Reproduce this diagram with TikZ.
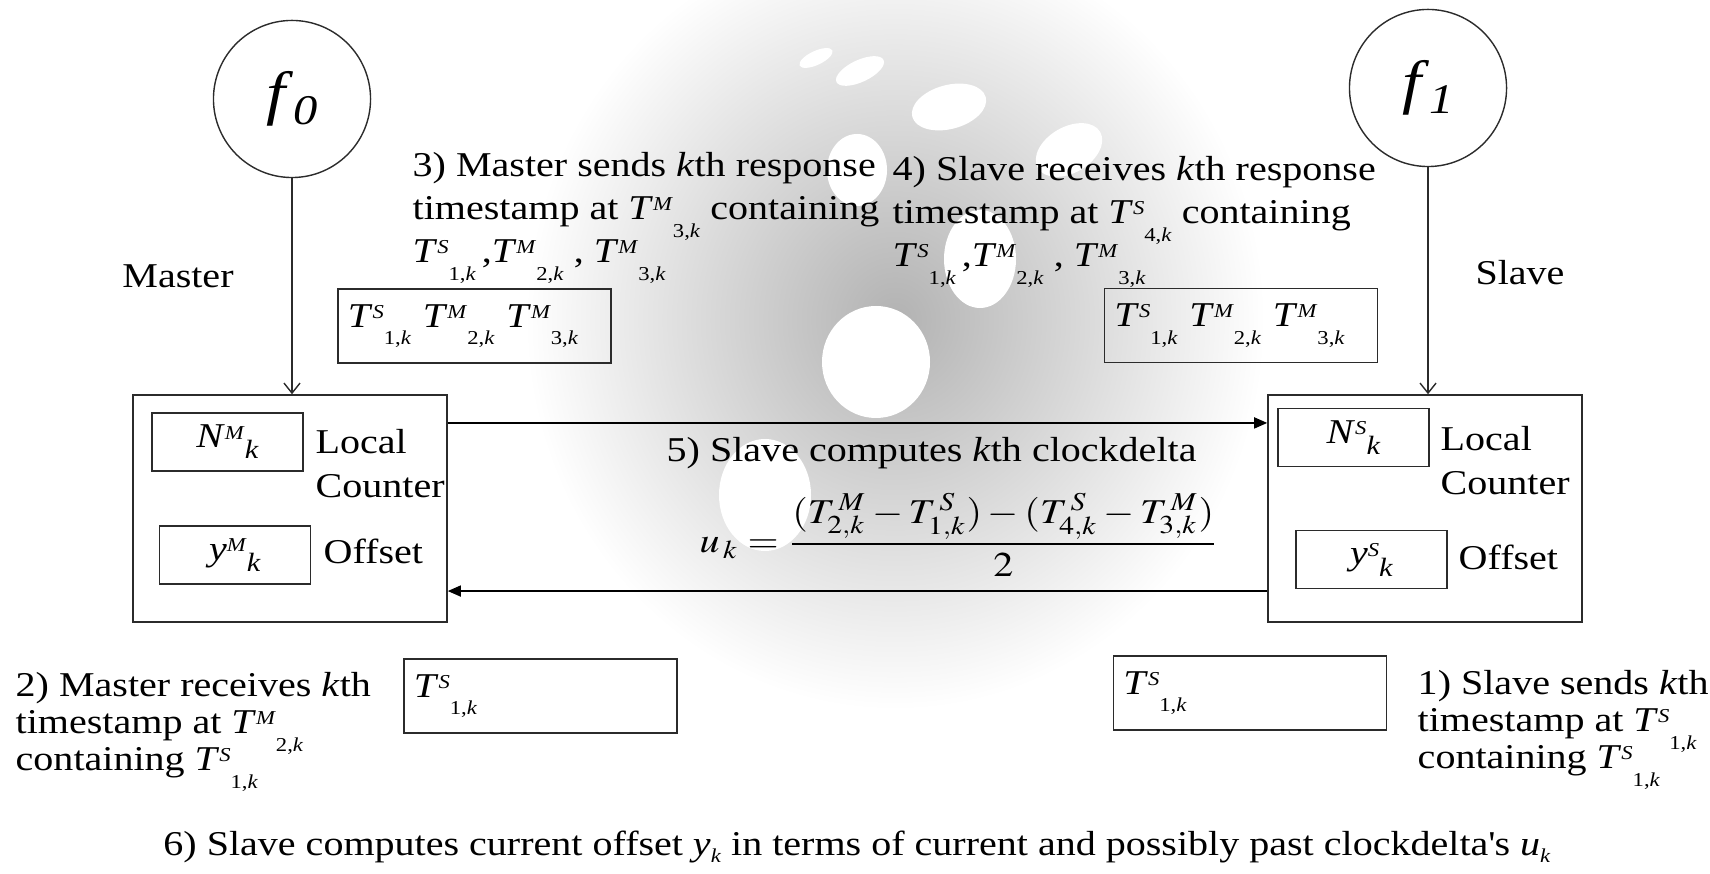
\documentclass[tikz,border=0pt]{standalone}
\usepackage{mathptmx}
\usepackage{fontspec}
\setmainfont[FakeStretch=1.15]{Liberation Serif}
\usepackage{graphicx}
\usepackage{tikz}
\usetikzlibrary{arrows.meta,positioning,calc}
\definecolor{SyncInk}{HTML}{2B2B2B}
\definecolor{SyncHaze}{HTML}{B2B2B2}
\setlength{\lineskiplimit}{-50pt}
\newcommand{\ssz}{\fontsize{5.6}{6}\selectfont}
\newcommand{\stamp}[3]{\textit{T}\raisebox{.55ex}{\ssz\textit{#1}}\raisebox{-1.1ex}{\ssz #2,\textit{#3}}}
\newcommand{\reg}[2]{\textit{#1}\raisebox{.55ex}{\ssz\textit{#2}}\raisebox{-.7ex}{\fontsize{7.5}{8}\selectfont\textit{k}}}
\newcommand{\clk}[1]{\fontsize{17}{17}\selectfont\textit{f}\raisebox{-.4ex}{\fontsize{12}{12}\selectfont\textit{#1}}}
\tikzset{
  clock/.style={draw=SyncInk, circle, minimum size=1.57cm, inner sep=0pt},
  unit/.style={draw=SyncInk, line width=0.4pt, minimum width=3.14cm, minimum height=2.27cm, inner sep=0pt},
  register/.style={draw=SyncInk, line width=0.4pt, minimum width=1.51cm, minimum height=0.58cm, inner sep=0pt},
  packet/.style={draw=SyncInk, line width=0.4pt, text width=2.53cm, inner xsep=0.1cm, inner ysep=0pt,
    minimum height=0.74cm, align=left},
  note/.style={inner sep=0pt, align=left, font=\fontsize{9.9}{12.2}\selectfont},
  tightnote/.style={note, font=\fontsize{9.9}{10.5}\selectfont},
  formula/.style={inner sep=0pt},
  wire/.style={draw=black, line width=0.45pt, -{Triangle[length=1.3mm,width=1.1mm]}},
  feed/.style={draw=SyncInk, line width=0.4pt, -{Straight Barb[length=1mm,width=1.6mm]}}
}
\begin{document}
\begin{tikzpicture}[x=0.01cm, y=-0.01cm, font=\fontsize{9.9}{12}\selectfont]
  \useasboundingbox (0,0) rectangle (1710,874);
  \shade[inner color=SyncHaze, outer color=white] (895,320) ellipse [x radius=370, y radius=390];
  \foreach \bx/\by/\bw/\bh/\bt in {876/362/54/56/0, 980/259/36/49/0, 949/107/38/22/15, 860/71/26/11/25,
      816/58/18/7/25, 1069/150/36/23/30, 765/495/46/56/0, 857/170/30/36/0}
    \fill[white, rotate around={\bt:(\bx,\by)}] (\bx,\by) ellipse [x radius=\bw, y radius=\bh];

  \node[clock] (f0) at (292,99) {\clk{0}};
  \node[clock] (f1) at (1428,88) {\clk{1}};
  \node[unit] (master) at (290,508.5) {};
  \node[unit] (slave) at (1425,508.5) {};
  \node[register] (nm) at (227.5,442) {\reg{N}{M}};
  \node[register] (ym) at (235,555) {\reg{y}{M}};
  \node[register] (ns) at (1353.5,437.5) {\reg{N}{S}};
  \node[register] (ys) at (1371.5,559.5) {\reg{y}{S}};
  \node[note, anchor=north west, font=\fontsize{9.9}{12.5}\selectfont] (lcm) at (315,429) {Local\\Counter};
  \node[note, anchor=north west, font=\fontsize{9.9}{12.5}\selectfont] (lcs) at (1440,426) {Local\\Counter};
  \node[note, anchor=base west] (ofm) at (323,564) {Offset};
  \node[note, anchor=base west] (ofs) at (1458,570) {Offset};

  \node[packet] (p3) at (474.5,326) {\stamp{S}{1}{k} \stamp{M}{2}{k} \stamp{M}{3}{k}};
  \node[packet] (p4) at (1241,325.5) {\stamp{S}{1}{k} \stamp{M}{2}{k} \stamp{M}{3}{k}};
  \node[packet] (p2) at (540.5,696) {\stamp{S}{1}{k}};
  \node[packet] (p1) at (1250,693) {\stamp{S}{1}{k}};

  \node[note, anchor=base] (mlabel) at (178,288) {Master};
  \node[note, anchor=base] (slabel) at (1520,285) {Slave};
  \node[note, anchor=north west] (step3) at (412,152)
    {3) Master sends \textit{k}th response\\timestamp at \stamp{M}{3}{k} containing\\\stamp{S}{1}{k}\,,\stamp{M}{2}{k} , \stamp{M}{3}{k}};
  \node[note, anchor=north west] (step4) at (892,156)
    {4) Slave receives \textit{k}th response\\timestamp at \stamp{S}{4}{k} containing\\\stamp{S}{1}{k}\,,\stamp{M}{2}{k} , \stamp{M}{3}{k}};
  \node[note, anchor=base west] (step5) at (666,462) {5) Slave computes \textit{k}th clockdelta};
  \node[formula, anchor=west] (delta) at (699,535)
    {\scalebox{1.15}[1]{$\displaystyle u_{\,k} = \frac{(T^{\,M}_{2,k}-T^{\,S}_{1,k})-(T^{\,S}_{4,k}-T^{\,M}_{3,k})}{2}$}};
  \node[tightnote, anchor=north west] (step2) at (15,672)
    {2) Master receives \textit{k}th\\timestamp at \stamp{M}{2}{k}\\containing \stamp{S}{1}{k}};
  \node[tightnote, anchor=north west] (step1) at (1417,670)
    {1) Slave sends \textit{k}th\\timestamp at \stamp{S}{1}{k}\\containing \stamp{S}{1}{k}};
  \node[note, anchor=base] (step6) at (857,855)
    {6) Slave computes current offset \textit{y}\raisebox{-.5ex}{\ssz\textit{k}} in terms of current and possibly past clockdelta\textquotesingle s \textit{u}\raisebox{-.5ex}{\ssz\textit{k}}};

  \draw[feed] (f0) -- (f0 |- master.north);
  \draw[feed] (f1) -- (f1 |- slave.north);
  \draw[wire] ([yshift=0.855cm]master.east) -- ([yshift=0.855cm]slave.west);
  \draw[wire] ([yshift=-0.825cm]slave.west) -- ([yshift=-0.825cm]master.east);
\end{tikzpicture}
\end{document}
